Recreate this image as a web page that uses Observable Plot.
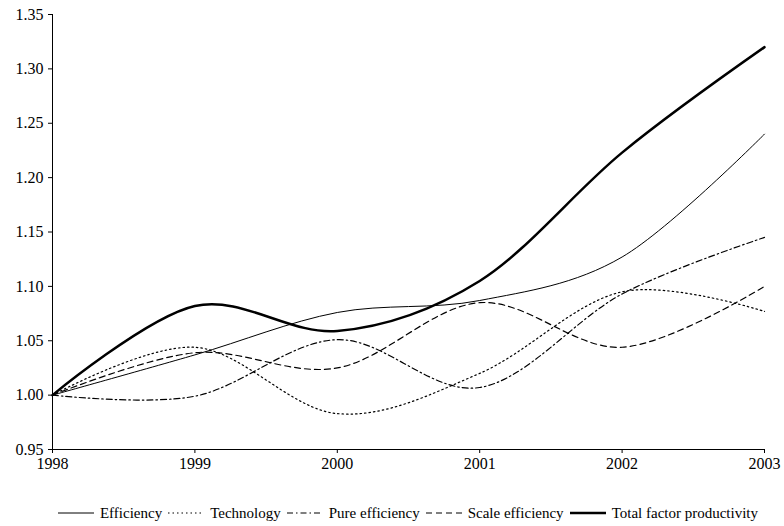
<!DOCTYPE html>
<html>
<head>
<meta charset="utf-8">
<script src="https://cdn.jsdelivr.net/npm/d3@7"></script>
<script src="https://cdn.jsdelivr.net/npm/@observablehq/plot@0.6"></script>
<style>
  html, body { margin: 0; padding: 0; background: #fff; }
  body { width: 784px; height: 526px; overflow: hidden; font-family: "Liberation Serif", "Times New Roman", serif; }
  #legend { display: flex; align-items: center; justify-content: center; box-sizing: border-box; height: 46px; padding: 20px 20px 0 52px; font-size: 15px; color: #000; }
  .item { display: flex; align-items: center; margin-right: 6px; }
  .item:last-child { margin-right: 0; }
  .item svg { margin-right: 6px; }
</style>
</head>
<body>
<div id="chart"></div>
<div id="legend"></div>
<script>
const years = [1998, 1999, 2000, 2001, 2002, 2003];
const efficiency = [1.000, 1.037, 1.076, 1.087, 1.127, 1.240];
const technology = [1.000, 1.044, 0.983, 1.020, 1.095, 1.077];
const pureEfficiency = [1.000, 0.999, 1.051, 1.007, 1.093, 1.145];
const scaleEfficiency = [1.000, 1.039, 1.025, 1.085, 1.044, 1.100];
const totalFactorProductivity = [1.000, 1.082, 1.059, 1.105, 1.223, 1.320];
const yTicks = [0.95, 1.00, 1.05, 1.10, 1.15, 1.20, 1.25, 1.30, 1.35];

const seriesDefs = [
  {name: "Efficiency", values: efficiency, width: 1, dash: null},
  {name: "Technology", values: technology, width: 1.2, dash: "1.5,3"},
  {name: "Pure efficiency", values: pureEfficiency, width: 1.2, dash: "6,3,1.5,3"},
  {name: "Scale efficiency", values: scaleEfficiency, width: 1.2, dash: "6,4"},
  {name: "Total factor productivity", values: totalFactorProductivity, width: 2.5, dash: null}
];

const lineMarks = seriesDefs.map(s => Plot.line(
  years.map((yr, i) => ({year: yr, value: s.values[i]})),
  {x: "year", y: "value", stroke: "#000", strokeWidth: s.width,
   strokeDasharray: s.dash || undefined, curve: "cardinal", tension: 0}
));

const chart = Plot.plot({
  width: 784,
  height: 480,
  marginLeft: 52,
  marginRight: 20,
  marginTop: 14,
  marginBottom: 31,
  style: {fontFamily: '"Liberation Serif", "Times New Roman", serif', fontSize: "16px", color: "#000", background: "#fff"},
  x: {domain: [1998, 2003], ticks: years, tickFormat: "d", label: null, tickSize: 4, tickPadding: 4},
  y: {domain: [0.95, 1.35], ticks: yTicks, tickFormat: ".2f", label: null, tickSize: 4, tickPadding: 5},
  marks: [
    ...lineMarks,
    Plot.ruleX([1998], {stroke: "#000", strokeWidth: 1}),
    Plot.ruleY([0.95], {stroke: "#000", strokeWidth: 1})
  ]
});
document.getElementById("chart").appendChild(chart);

const legend = document.getElementById("legend");
seriesDefs.forEach(s => {
  const item = document.createElement("div");
  item.className = "item";
  const ns = "http://www.w3.org/2000/svg";
  const svg = document.createElementNS(ns, "svg");
  svg.setAttribute("width", 36);
  svg.setAttribute("height", 10);
  const ln = document.createElementNS(ns, "line");
  ln.setAttribute("x1", 0); ln.setAttribute("x2", 36);
  ln.setAttribute("y1", 5); ln.setAttribute("y2", 5);
  ln.setAttribute("stroke", "#000");
  ln.setAttribute("stroke-width", s.width);
  if (s.dash) ln.setAttribute("stroke-dasharray", s.dash);
  svg.appendChild(ln);
  item.appendChild(svg);
  const t = document.createElement("span");
  t.textContent = s.name;
  item.appendChild(t);
  legend.appendChild(item);
});
</script>
</body>
</html>
